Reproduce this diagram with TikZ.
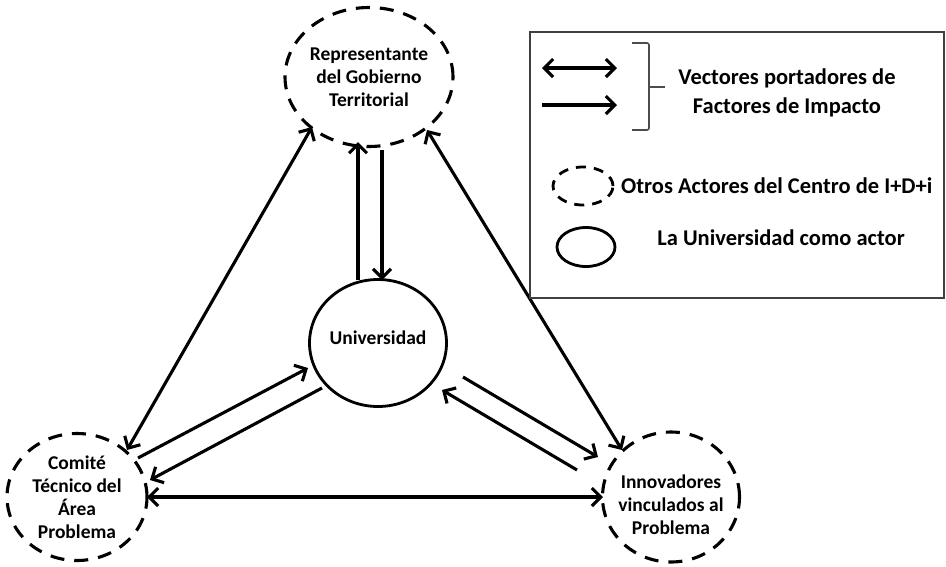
\documentclass[tikz,border=0pt]{standalone}
\usepackage{fontspec}
\setmainfont{Carlito}
\usetikzlibrary{arrows.meta,shapes.geometric,calc}
\begin{document}
\begin{tikzpicture}[x=1pt,y=-1pt,
  actor/.style={ellipse, draw, line width=3.1pt, dash pattern=on 14pt off 10pt,
    inner sep=0pt, align=center, font=\bfseries\fontsize{19.5}{23}\selectfont},
  uninode/.style={ellipse, draw, line width=2.8pt, inner sep=0pt, align=center,
    font=\bfseries\fontsize{19.5}{23}\selectfont},
  tip/.tip={Straight Barb[length=9pt,width=18pt]},
  vec/.style={line width=3.1pt, -tip},
  bivec/.style={line width=3.1pt, tip-tip},
  legtext/.style={align=center, inner sep=0pt, font=\bfseries\fontsize{22.5}{29}\selectfont},
  legshape/.style={ellipse, draw, line width=2.8pt, inner sep=0pt}
]
\useasboundingbox (0,0) rectangle (946,566);

% main actors
\node[actor, minimum width=168pt, minimum height=139pt] (T) at (369,77)
  {\fontsize{19.5}{26}\selectfont Representante\\del Gobierno\\Territorial};
\node[uninode, minimum width=137pt, minimum height=127pt] (U) at (378,343)
  {\raisebox{10pt}{Universidad}};
\node[actor, minimum width=140pt, minimum height=127pt] (L) at (77,497)
  {\fontsize{19.5}{21.5}\selectfont Comité\\Técnico del\\Área\\Problema};
\node[actor, minimum width=137pt, minimum height=130pt,
  label={[align=center, font=\bfseries\fontsize{19.5}{23}\selectfont, yshift=-8pt]center:Innovadores\\vinculados al\\Problema}] (R) at (671,497) {};

% connectors
\draw[vec] ($(U)+(-20,-63)$) -- ($(T)+(-11,65)$);
\draw[vec] ($(T)+(13,73)$) -- ($(U)+(4,-63)$);
\draw[bivec] ($(T)+(-57,50)$) -- ($(L)+(50,-47)$);
\draw[bivec] ($(T)+(58,53)$) -- ($(R)+(-49,-47)$);
\draw[bivec] ($(L)+(70,0)$) -- ($(R)+(-68,0)$);
\draw[vec] ($(L)+(61,-39)$) -- ($(U)+(-70,25)$);
\draw[vec] ($(U)+(-56,45)$) -- ($(L)+(73,-17)$);
\draw[vec] ($(U)+(85,34)$) -- ($(R)+(-73,-40)$);
\draw[vec] ($(R)+(-94,-27)$) -- ($(U)+(64,47)$);

% legend
\node[draw=black!75, line width=1.8pt, minimum width=414pt, minimum height=266pt,
  inner sep=0pt] (box) at (737,165) {};
\coordinate (da1) at (542,68);
\coordinate (da2) at (617,68);
\coordinate (sa1) at (542,105);
\coordinate (sa2) at (617,105);
\draw[bivec] (da1) -- (da2);
\draw[vec] (sa1) -- (sa2);
\draw[line width=1.6pt, black!70, rounded corners=2pt] (632,43) -- (649,43) -- (649,130) -- (632,130);
\draw[line width=1.6pt, black!70] (649,87) -- (665,87);
\node[legtext] (vt) at (787,93) {Vectores portadores de\\Factores de Impacto};
\node[legshape, dash pattern=on 10pt off 8pt, minimum width=60pt, minimum height=38pt] (le1) at (583,186) {};
\node[legtext, anchor=west] (lt1) at (621,186) {Otros Actores del Centro de I+D+i};
\node[legshape, minimum width=58pt, minimum height=39pt] (le2) at (586,247) {};
\node[legtext] (lt2) at (781,238) {La Universidad como actor};
\end{tikzpicture}
\end{document}
